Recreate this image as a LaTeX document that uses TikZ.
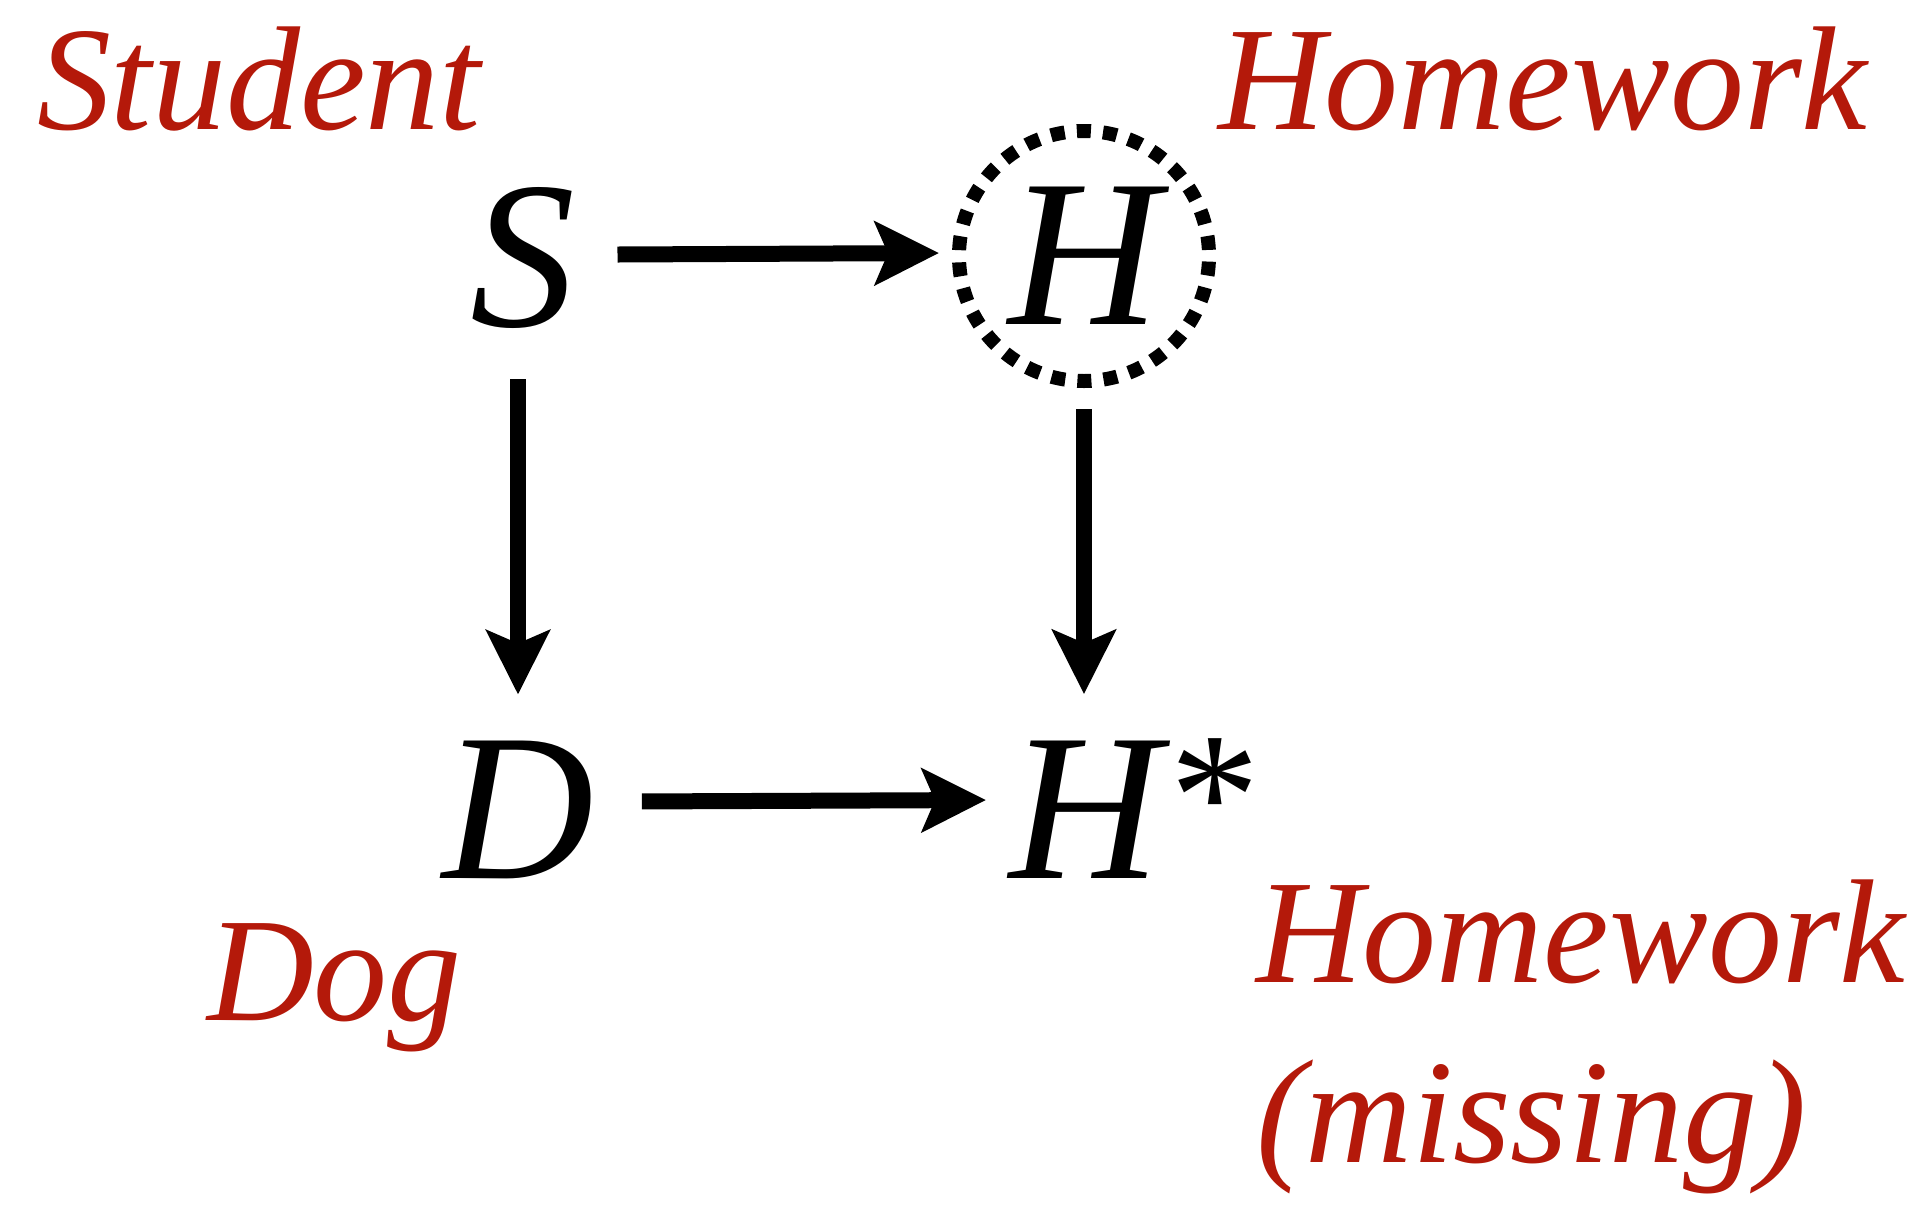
\documentclass[tikz,border=0pt]{standalone}
\usepackage{fontspec}
\setmainfont{Liberation Serif}
\usetikzlibrary{arrows.meta,calc}
\definecolor{labelred}{RGB}{180,25,10}
\tikzset{
  var/.style={inner sep=0pt, outer sep=0pt, font=\fontsize{210}{210}\selectfont\itshape},
  lbl/.style={inner sep=0pt, outer sep=0pt, text=labelred,
    font=\fontsize{148}{180}\selectfont\itshape, anchor=base west},
  arr/.style={line width=16pt, -{Stealth[length=64pt, width=63pt, inset=13pt]}},
  obs/.style={circle, draw, line width=14pt, dash pattern=on 14pt off 12.2pt,
    dash phase=20.1pt, minimum size=250pt, inner sep=0pt, outer sep=0pt}
}
\begin{document}
\begin{tikzpicture}[x=1pt,y=1pt]
\useasboundingbox (0,0) rectangle (1915,-1205);

% variables
\node[var, anchor=base] (S) at (523,-326) {S};
\node[var, obs] (H) at (1084,-256) {H};
\node[var, anchor=base] (D) at (518,-878) {D};
\node[var, anchor=base west] (Hs) at (1009,-878)
  {H\kern1pt\raisebox{22pt}{\fontsize{180}{180}\selectfont *}};

% edges
\draw[arr] ([xshift=42pt, yshift=3pt]S.east) -- ([xshift=-20pt, yshift=3pt]H.west);
\draw[arr] ([xshift=-5pt, yshift=-51pt]S.south) -- ([yshift=46pt]D.north);
\draw[arr] ([yshift=-28pt]H.south) -- ($(H.south |- Hs.north)+(0,44)$);
\draw[arr] ([xshift=48pt, yshift=8pt]D.east) -- ($(Hs.base west)+(-23,78)$);

% labels
\node[lbl] (student) at (37,-129) {Student};
\node[lbl] (hw) at (1218,-129) {Homework};
\node[lbl] (dog) at (207,-1020) {Dog};
\node[lbl, align=left] (hwm) at (1256,-1162) {Homework\\(missing)};
\end{tikzpicture}
\end{document}
